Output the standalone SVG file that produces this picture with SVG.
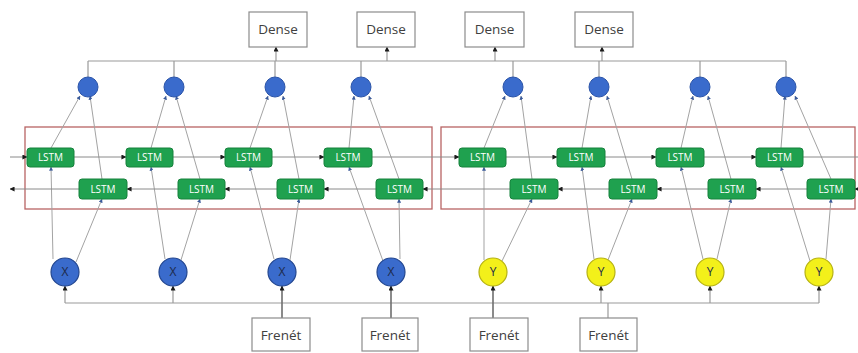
<svg xmlns="http://www.w3.org/2000/svg" width="858" height="353" viewBox="0 0 858 353">
<style>
.ln{stroke:#a3a3a3;stroke-width:1;fill:none}
.bus{stroke:#9a9a9a;stroke-width:1.2;fill:none}
.dk{stroke:#6e6e6e;stroke-width:1.6;fill:none}
.hz{stroke:#8a8a8a;stroke-width:1;fill:none}
.box{fill:#fff;stroke:#8c8c8c;stroke-width:1.2}
.bt{font-family:"Open Sans","Liberation Sans",sans-serif;font-size:13.5px;fill:#404040;text-anchor:middle}
.lstm{fill:#1fa14f;stroke:#17823d;stroke-width:1}
.lt{font-family:"Open Sans","Liberation Sans",sans-serif;font-size:10px;fill:#fff;text-anchor:middle}
.bc{fill:#3a6bcc;stroke:#2b54a8;stroke-width:1}
.xc{fill:#3a6bcc;stroke:#24478f;stroke-width:1.2}
.yc{fill:#f3f01a;stroke:#b6b214;stroke-width:1.2}
.ct{font-family:"Open Sans","Liberation Sans",sans-serif;font-size:12px;fill:#1d2a4a;text-anchor:middle}
.frame{fill:none;stroke:#b86464;stroke-width:1.3}
</style>
<defs>
<marker id="ar" viewBox="0 0 6 6" refX="5.5" refY="3" markerWidth="5" markerHeight="5" orient="auto" markerUnits="userSpaceOnUse">
<path d="M0,0 L6,3 L0,6 z" fill="#1a1a1a"/>
</marker>
<marker id="ab" viewBox="0 0 6 6" refX="5.5" refY="3" markerWidth="4" markerHeight="4" orient="auto" markerUnits="userSpaceOnUse">
<path d="M0,0 L6,3 L0,6 z" fill="#3a5a9a"/>
</marker>
</defs>

<g id="frames">
<rect class="frame" x="25" y="127" width="407" height="82"/>
<rect class="frame" x="441" y="127" width="414" height="82"/>
</g>

<g id="connectors">
<path class="bus" d="M88 61 H786"/>
<path class="bus" d="M88 61 V77 M174 61 V77 M275 61 V77 M361 61 V77 M513 61 V77 M599 61 V77 M700 61 V77 M786 61 V77"/>
<path class="bus" marker-end="url(#ar)" d="M276 61 V47"/>
<path class="bus" marker-end="url(#ar)" d="M387 61 V47"/>
<path class="bus" marker-end="url(#ar)" d="M495 61 V47"/>
<path class="bus" marker-end="url(#ar)" d="M602 61 V47"/>
<g marker-end="url(#ab)">
<path class="ln" d="M51 148 L80 96"/><path class="ln" d="M102 179 L90 96"/>
<path class="ln" d="M151 148 L166 96"/><path class="ln" d="M200 179 L176 96"/>
<path class="ln" d="M250 148 L268 96"/><path class="ln" d="M299 179 L283 96"/>
<path class="ln" d="M349 148 L354 96"/><path class="ln" d="M399 179 L369 96"/>
<path class="ln" d="M484 148 L505 96"/><path class="ln" d="M532 179 L521 96"/>
<path class="ln" d="M582 148 L591 96"/><path class="ln" d="M632 179 L607 96"/>
<path class="ln" d="M681 148 L693 96"/><path class="ln" d="M731 179 L708 96"/>
<path class="ln" d="M781 148 L785 96"/><path class="ln" d="M831 179 L795 96"/>
</g>
<g marker-end="url(#ab)">
<path class="ln" d="M53 259 L51 167"/><path class="ln" d="M76 262 L102 199"/>
<path class="ln" d="M165 259 L151 167"/><path class="ln" d="M181 260 L200 199"/>
<path class="ln" d="M274 259 L250 167"/><path class="ln" d="M290 260 L299 199"/>
<path class="ln" d="M383 261 L349 167"/><path class="ln" d="M400 259 L399 199"/>
<path class="ln" d="M484 260 L484 167"/><path class="ln" d="M502 261 L532 199"/>
<path class="ln" d="M594 259 L582 167"/><path class="ln" d="M608 260 L632 199"/>
<path class="ln" d="M703 259 L681 167"/><path class="ln" d="M717 259 L731 199"/>
<path class="ln" d="M810 261 L781 167"/><path class="ln" d="M826 259 L831 199"/>
</g>
<g marker-end="url(#ar)">
<path class="hz" d="M10 157 H27"/><path class="hz" d="M74 157 H126"/><path class="hz" d="M173 157 H225"/><path class="hz" d="M272 157 H324"/>
<path class="hz" d="M372 157 H459"/><path class="hz" d="M506 157 H557"/><path class="hz" d="M605 157 H656"/><path class="hz" d="M704 157 H756"/>
</g>
<path class="hz" d="M803 157 H858"/>
<g marker-end="url(#ar)">
<path class="hz" d="M862 189 H855"/><path class="hz" d="M807 189 H756"/><path class="hz" d="M708 189 H657"/><path class="hz" d="M609 189 H558"/>
<path class="hz" d="M510 189 H423"/><path class="hz" d="M376 189 H324"/><path class="hz" d="M277 189 H225"/><path class="hz" d="M178 189 H127"/>
<path class="hz" d="M79 189 H10"/>
</g>
<path class="bus" d="M65 303 H819"/>
<g marker-end="url(#ar)">
<path class="bus" d="M65 303 V286"/><path class="bus" d="M173 303 V286"/><path class="bus" d="M601 303 V286"/><path class="bus" d="M710 303 V286"/><path class="bus" d="M819 303 V286"/>
<path class="dk" d="M282 318 V286"/><path class="dk" d="M391 318 V286"/><path class="dk" d="M493 318 V286"/>
</g>
<path class="bus" d="M608 318 V303"/>
</g>

<g id="dense1"><rect class="box" x="249" y="12" width="58" height="35"/><text class="bt" x="278" y="34">Dense</text></g>
<g id="dense2"><rect class="box" x="357" y="12" width="58" height="35"/><text class="bt" x="386" y="34">Dense</text></g>
<g id="dense3"><rect class="box" x="465" y="12" width="59" height="35"/><text class="bt" x="494.5" y="34">Dense</text></g>
<g id="dense4"><rect class="box" x="575" y="12" width="58" height="35"/><text class="bt" x="604" y="34">Dense</text></g>

<g id="out1"><circle class="bc" cx="88" cy="87" r="10"/></g>
<g id="out2"><circle class="bc" cx="174" cy="87" r="10"/></g>
<g id="out3"><circle class="bc" cx="275" cy="87" r="10"/></g>
<g id="out4"><circle class="bc" cx="361" cy="87" r="10"/></g>
<g id="out5"><circle class="bc" cx="513" cy="87" r="10"/></g>
<g id="out6"><circle class="bc" cx="599" cy="87" r="10"/></g>
<g id="out7"><circle class="bc" cx="700" cy="87" r="10"/></g>
<g id="out8"><circle class="bc" cx="786" cy="87" r="10"/></g>

<g id="lstmF1"><rect class="lstm" x="27" y="148" width="47" height="19" rx="3"/><text class="lt" x="50.5" y="161">LSTM</text></g>
<g id="lstmF2"><rect class="lstm" x="126" y="148" width="47" height="19" rx="3"/><text class="lt" x="149.5" y="161">LSTM</text></g>
<g id="lstmF3"><rect class="lstm" x="225" y="148" width="47" height="19" rx="3"/><text class="lt" x="248.5" y="161">LSTM</text></g>
<g id="lstmF4"><rect class="lstm" x="324" y="148" width="48" height="19" rx="3"/><text class="lt" x="348" y="161">LSTM</text></g>
<g id="lstmF5"><rect class="lstm" x="459" y="148" width="47" height="19" rx="3"/><text class="lt" x="482.5" y="161">LSTM</text></g>
<g id="lstmF6"><rect class="lstm" x="557" y="148" width="48" height="19" rx="3"/><text class="lt" x="581" y="161">LSTM</text></g>
<g id="lstmF7"><rect class="lstm" x="656" y="148" width="48" height="19" rx="3"/><text class="lt" x="680" y="161">LSTM</text></g>
<g id="lstmF8"><rect class="lstm" x="756" y="148" width="47" height="19" rx="3"/><text class="lt" x="779.5" y="161">LSTM</text></g>

<g id="lstmB1"><rect class="lstm" x="79" y="179" width="48" height="20" rx="3"/><text class="lt" x="103" y="192.5">LSTM</text></g>
<g id="lstmB2"><rect class="lstm" x="178" y="179" width="47" height="20" rx="3"/><text class="lt" x="201.5" y="192.5">LSTM</text></g>
<g id="lstmB3"><rect class="lstm" x="277" y="179" width="47" height="20" rx="3"/><text class="lt" x="300.5" y="192.5">LSTM</text></g>
<g id="lstmB4"><rect class="lstm" x="376" y="179" width="47" height="20" rx="3"/><text class="lt" x="399.5" y="192.5">LSTM</text></g>
<g id="lstmB5"><rect class="lstm" x="510" y="179" width="48" height="20" rx="3"/><text class="lt" x="534" y="192.5">LSTM</text></g>
<g id="lstmB6"><rect class="lstm" x="609" y="179" width="48" height="20" rx="3"/><text class="lt" x="633" y="192.5">LSTM</text></g>
<g id="lstmB7"><rect class="lstm" x="708" y="179" width="48" height="20" rx="3"/><text class="lt" x="732" y="192.5">LSTM</text></g>
<g id="lstmB8"><rect class="lstm" x="807" y="179" width="48" height="20" rx="3"/><text class="lt" x="831" y="192.5">LSTM</text></g>

<g id="x1"><circle class="xc" cx="65" cy="272" r="14"/><text class="ct" x="65" y="276">X</text></g>
<g id="x2"><circle class="xc" cx="173" cy="272" r="14"/><text class="ct" x="173" y="276">X</text></g>
<g id="x3"><circle class="xc" cx="282" cy="272" r="14"/><text class="ct" x="282" y="276">X</text></g>
<g id="x4"><circle class="xc" cx="391" cy="272" r="14"/><text class="ct" x="391" y="276">X</text></g>
<g id="y1"><circle class="yc" cx="493" cy="272" r="14"/><text class="ct" x="493" y="276">Y</text></g>
<g id="y2"><circle class="yc" cx="601" cy="272" r="14"/><text class="ct" x="601" y="276">Y</text></g>
<g id="y3"><circle class="yc" cx="710" cy="272" r="14"/><text class="ct" x="710" y="276">Y</text></g>
<g id="y4"><circle class="yc" cx="819" cy="272" r="14"/><text class="ct" x="819" y="276">Y</text></g>

<g id="frenet1"><rect class="box" x="252" y="318" width="58" height="33"/><text class="bt" x="281" y="339.5">Frenét</text></g>
<g id="frenet2"><rect class="box" x="362" y="318" width="56" height="33"/><text class="bt" x="390" y="339.5">Frenét</text></g>
<g id="frenet3"><rect class="box" x="470" y="318" width="58" height="33"/><text class="bt" x="499" y="339.5">Frenét</text></g>
<g id="frenet4"><rect class="box" x="580" y="318" width="57" height="33"/><text class="bt" x="608.5" y="339.5">Frenét</text></g>
</svg>
